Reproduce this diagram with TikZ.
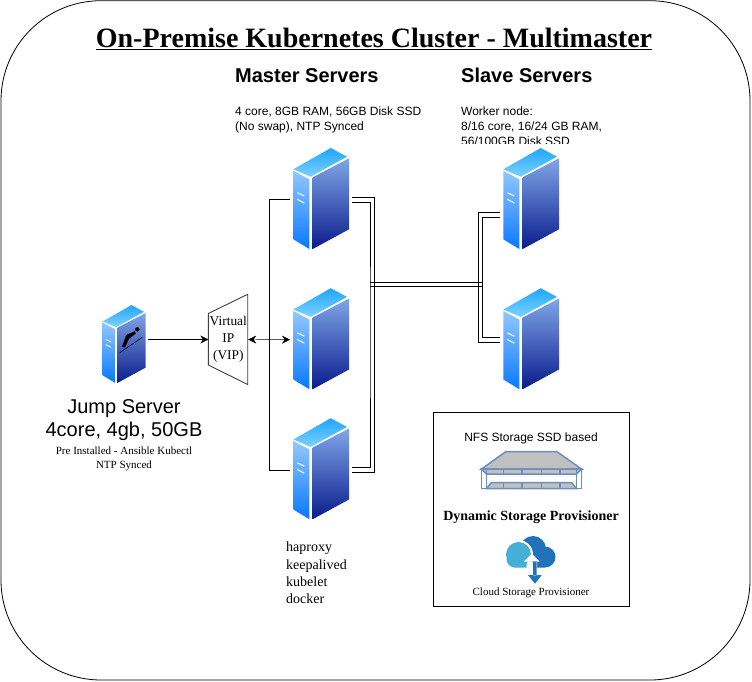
\documentclass[tikz,border=0pt]{standalone}
\usepackage{fontspec}
\setmainfont{Liberation Serif}
\setsansfont{Liberation Sans}
\usetikzlibrary{arrows.meta}
\definecolor{srvtopa}{RGB}{32,166,255}
\definecolor{srvtopb}{RGB}{125,210,255}
\definecolor{srvlefta}{RGB}{146,200,255}
\definecolor{srvleftb}{RGB}{10,120,255}
\definecolor{srvrighta}{RGB}{128,166,232}
\definecolor{srvrightb}{RGB}{10,28,140}
\definecolor{nasblue}{RGB}{108,142,191}
\definecolor{nasgray}{RGB}{192,192,192}
\definecolor{cloudlight}{RGB}{68,176,214}
\definecolor{clouddark}{RGB}{32,114,186}
\tikzset{
  serverbox/.style={inner sep=0pt,outer sep=0pt},
  headlabel/.style={anchor=base west,inner sep=0pt,font=\sffamily\bfseries\fontsize{20}{24}\selectfont},
  infolabel/.style={anchor=north west,inner sep=0pt,align=left,font=\sffamily\fontsize{12}{14.6}\selectfont},
  smallserif/.style={inner sep=0pt,align=center,font=\fontsize{11}{14}\selectfont},
  flowarrow/.style={-{Stealth[length=8pt,width=8pt]}},
  botharrow/.style={{Stealth[length=8pt,width=8pt]}-{Stealth[length=8pt,width=8pt]}}
}
\newcommand{\drawserver}[4]{
  \node[serverbox,minimum width=#4*62pt,minimum height=#4*103pt] (#1) at (#2,#3) {};
  \begin{scope}[shift={(#2,#3)},scale=#4,shift={(-28,-51.5)}]
    \shade[top color=srvtopa,bottom color=srvtopb] (37.7,0)--(54,8.7)--(17.7,28.7)--(.3,21.3)--cycle;
    \shade[top color=srvlefta,bottom color=srvleftb] (.3,22.7)--(16.3,31.3)--(16.3,101)--(.3,91.3)--cycle;
    \shade[top color=srvrighta,bottom color=srvrightb] (19.7,29.3)--(56,10.3)--(56,81.3)--(19.7,101)--cycle;
    \draw[white,line width=#4*1pt] (4.3,44.7)--(11.3,48) (4.3,51.3)--(11.3,55);
  \end{scope}
}
\begin{document}
\begin{tikzpicture}[x=1pt,y=-1pt]
\useasboundingbox (0,0) rectangle (752,681);
\draw[rounded corners=100pt,line width=.8pt] (1,.7) rectangle (750,680);
\node[inner sep=0pt,font=\bfseries\fontsize{28}{32}\selectfont] (title) at (374,38.5) {\underline{On-Premise Kubernetes Cluster - Multimaster}};
\node[headlabel] (masterhead) at (235,82) {Master Servers};
\node[headlabel] (slavehead) at (461,82) {Slave Servers};
\node[infolabel] (masterinfo) at (235,107) {4 core, 8GB RAM, 56GB Disk SSD\\(No swap), NTP Synced};
\begin{scope}
  \clip (455,100) rectangle (640,143);
  \node[infolabel] (slaveinfo) at (461,107) {Worker node:\\8/16 core, 16/24 GB RAM,\\56/100GB Disk SSD};
\end{scope}
\drawserver{jump}{124}{344.7}{.77}
\drawserver{master1}{321}{199.5}{1}
\drawserver{master2}{321}{339.7}{1}
\drawserver{master3}{321}{469.7}{1}
\drawserver{slave1}{531}{199.5}{1}
\drawserver{slave2}{531}{339.7}{1}
\fill (137.3,329.3) circle (2.2pt);
\fill (122,346.7)--(126.3,335)--(134.7,331.2)--(135.8,333.5)--(129,338.8)--(125,347.3)--cycle;
\draw[line width=.6pt] (119.7,352.7)--(142.3,337.3);
\draw[fill=white,draw=black!75,line width=.9pt] (208.3,313.5)--(247.7,294.3)--(247.7,384.5)--(208.3,365)--cycle;
\node[inner sep=0pt,minimum width=39.4pt,minimum height=70pt,align=center,font=\fontsize{13.4}{17}\selectfont] (vip) at (228.3,339.5) {Virtual\\IP\\(VIP)};
\draw[flowarrow] (jump.east |- vip.west) -- (vip.west);
\draw[botharrow] (vip.east) -- (master2.west);
\coordinate (masterbus) at (269.5,330);
\draw (master1.west) -| (masterbus) |- (master3.west);
\coordinate (businner) at (370,330);
\coordinate (busouter) at (374.3,330);
\coordinate (slaveouter) at (478.5,280);
\coordinate (slaveinner) at (482.5,280);
\draw ([yshift=2.2pt]master1.east) -| (busouter) |- ([yshift=-2.2pt]master3.east);
\draw ([yshift=-2.2pt]master1.east) -| (businner) |- ([yshift=2.2pt]master3.east);
\draw ([yshift=-12.8pt]slave1.west) -| (slaveouter) |- ([yshift=-2.1pt]slave2.west);
\draw ([yshift=-17.2pt]slave1.west) -| (slaveinner) |- ([yshift=2.1pt]slave2.west);
\draw (370,282.5) -- (482.5,282.5);
\draw (370,286.5) -- (482.5,286.5);
\node[inner sep=0pt,font=\sffamily\fontsize{20}{24}\selectfont] (jumpname) at (124,408.5) {Jump Server};
\node[inner sep=0pt,font=\sffamily\fontsize{20}{24}\selectfont] (jumpspec) at (124,431) {4core, 4gb, 50GB};
\node[smallserif] (jumpinfo) at (124,459) {Pre Installed - Ansible Kubectl\\NTP Synced};
\node[inner sep=0pt,anchor=north west,align=left,font=\fontsize{14}{17.2}\selectfont] (masterapps) at (286,542) {haproxy\\keepalived\\kubelet\\docker};
\node[draw,line width=.8pt,inner sep=0pt,minimum width=195.7pt,minimum height=194.5pt] (storage) at (531.2,509.5) {};
\node[inner sep=0pt,font=\sffamily\fontsize{12}{15}\selectfont] (nfslabel) at (531,438) {NFS Storage SSD based};
\draw[fill=nasgray,draw=nasblue,line width=1.5pt] (506,451.5)--(556.7,451.5)--(581.5,469)--(481.5,469)--cycle;
\draw[fill=nasgray,draw=nasblue,line width=1.5pt] (481.5,469)--(581.5,469)--(576.5,474)--(486.5,474)--cycle;
\draw[fill=nasgray,draw=nasblue,line width=1.5pt] (491.5,482.5)--(571.5,482.5)--(576.5,488.5)--(486.5,488.5)--cycle;
\draw[draw=nasblue,line width=1.8pt] (481.5,469) rectangle (486.5,488.5) (576.5,469) rectangle (581.5,488.5);
\foreach \x in {503.3,522,541.7,560}{
  \draw[draw=nasblue,line width=1.5pt] (\x,469)--(\x,474) (\x,482.5)--(\x,488.5);
}
\node[inner sep=0pt,font=\bfseries\fontsize{14}{16}\selectfont] (dynlabel) at (531,517) {Dynamic Storage Provisioner};
\fill[clouddark] (533,549) circle (13pt) (545,557) circle (10.5pt) (524,556) rectangle (545,567.6);
\fill[white] (518.5,554.5) circle (14.5pt) (515,559.5) circle (10pt) (515,551) rectangle (529,569);
\fill[cloudlight] (518.5,554.5) circle (12.5pt) (515,559) circle (8.6pt) (515,555) rectangle (526.5,567.6);
\fill[white] (531.7,553.5)--(539.5,561.5)--(524,561.5)--cycle (527,561) rectangle (537,569);
\fill[clouddark] (533,561.5) rectangle (536.5,575.5) (528,575)--(541.7,575)--(535,583.7)--cycle;
\node[smallserif] (cloudlabel) at (531,592.5) {Cloud Storage Provisioner};
\end{tikzpicture}
\end{document}
